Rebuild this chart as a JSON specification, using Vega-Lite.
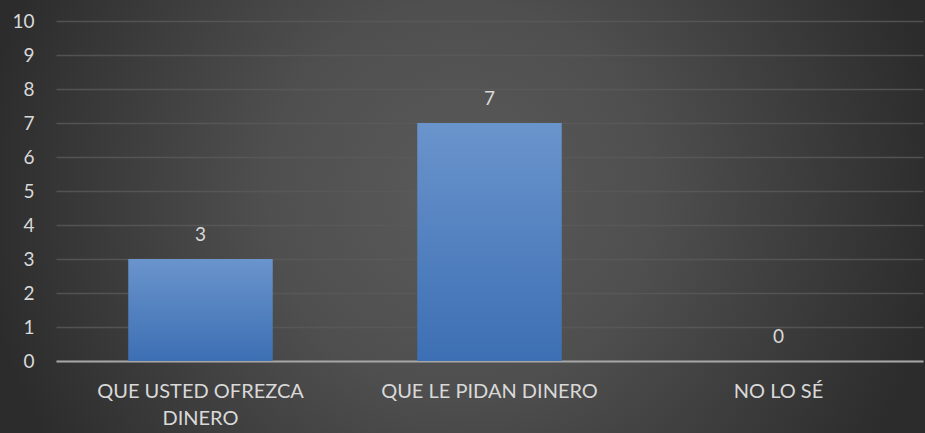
{
  "$schema": "https://vega.github.io/schema/vega-lite/v6.json",
  "width": 925,
  "height": 433,
  "autosize": {"type": "none"},
  "padding": 0,
  "background": "#2c2c2c",
  "config": {
    "view": {
      "stroke": null,
      "fill": {
        "gradient": "radial",
        "x1": 0.497, "y1": 0.477, "r1": 0,
        "x2": 0.497, "y2": 0.477, "r2": 0.52,
        "stops": [
          {"offset": 0, "color": "#5a5a5a"},
          {"offset": 0.4, "color": "#4f4f4f"},
          {"offset": 1, "color": "#2c2c2c"}
        ]
      }
    },
    "font": "Lato"
  },
  "data": {
    "values": [
      {"categoria": "QUE USTED OFREZCA DINERO", "valor": 3},
      {"categoria": "QUE LE PIDAN DINERO", "valor": 7},
      {"categoria": "NO LO SÉ", "valor": 0}
    ]
  },
  "encoding": {
    "x": {
      "field": "categoria",
      "type": "nominal",
      "sort": null,
      "scale": {"range": [56, 923], "paddingInner": 0.5, "paddingOuter": 0.25},
      "axis": {
        "title": null,
        "offset": -72,
        "labelAngle": 0,
        "domain": true,
        "domainColor": "#a6a6a6",
        "domainWidth": 2,
        "ticks": false,
        "grid": false,
        "labelColor": "#d9d9d9",
        "labelFont": "Lato",
        "labelFontSize": 20,
        "labelPadding": 20,
        "labelLineHeight": 27,
        "labelLimit": 300,
        "labelExpr": "datum.label == 'QUE USTED OFREZCA DINERO' ? ['QUE USTED OFREZCA', 'DINERO'] : datum.label"
      }
    },
    "y": {
      "field": "valor",
      "type": "quantitative",
      "scale": {"domain": [0, 10], "nice": false, "range": [361, 21]},
      "axis": {
        "title": null,
        "offset": -56,
        "values": [0, 1, 2, 3, 4, 5, 6, 7, 8, 9, 10],
        "domain": false,
        "ticks": false,
        "labelColor": "#d9d9d9",
        "labelFont": "Lato",
        "labelFontSize": 19,
        "labelPadding": 22,
        "gridColor": "#5a5a5a",
        "gridOpacity": 0.8,
        "gridWidth": 1.5
      }
    }
  },
  "layer": [
    {
      "mark": {
        "type": "bar",
        "color": {
          "gradient": "linear",
          "x1": 0, "y1": 0, "x2": 0, "y2": 1,
          "stops": [
            {"offset": 0, "color": "#6a94cc"},
            {"offset": 1, "color": "#3d6fb4"}
          ]
        }
      }
    },
    {
      "mark": {"type": "text", "dy": -24, "fontSize": 19, "color": "#d9d9d9", "font": "Lato"},
      "encoding": {"text": {"field": "valor", "type": "quantitative"}}
    }
  ]
}
